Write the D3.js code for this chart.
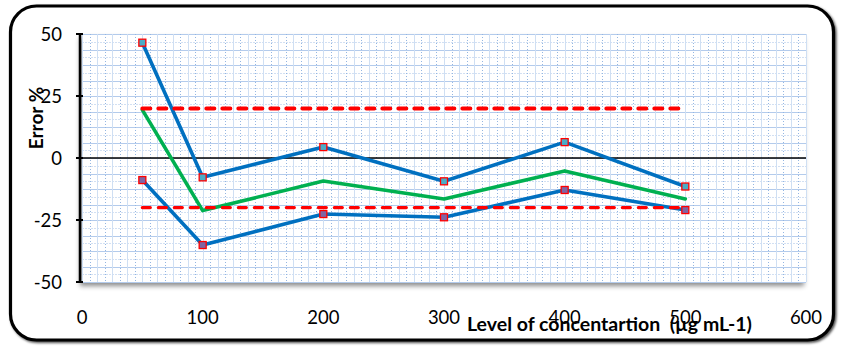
<!DOCTYPE html>
<html><head><meta charset="utf-8">
<script src="https://cdn.jsdelivr.net/npm/d3@7"></script>
<style>body{margin:0;background:#fff}svg{display:block}</style>
</head><body>
<svg id="chart" width="842" height="351"></svg>
<script>
// ---- data ----
const concentrations = [50, 100, 200, 300, 400, 500];
const upperError = [46.5, -7.8, 4.4, -9.4, 6.4, -11.5];
const meanError = [19.4, -21.2, -9.3, -16.5, -5.2, -16.5];
const lowerError = [-8.9, -35.1, -22.6, -23.9, -12.9, -21.0];
const limitRange = [50, 500];
const upperLimit = 20;
const lowerLimit = -20;
const xTicks = [0, 100, 200, 300, 400, 500, 600];
const yTicks = [50, 25, 0, -25, -50];
const xTitle = "Level of concentartion  (µg mL-1)";
const yTitle = "Error %";

const svg = d3.select("#chart");
const L = 82, R = 806, T = 34, B = 282;
const x = d3.scaleLinear().domain([0, 600]).range([L, R]);
const y = d3.scaleLinear().domain([-50, 50]).range([B, T]);
const font = "Lato, 'Open Sans', sans-serif";

const defs = svg.append("defs");
const sh = defs.append("filter").attr("id","psh").attr("x","-10%").attr("y","-10%").attr("width","120%").attr("height","125%");
sh.append("feDropShadow").attr("dx",-2).attr("dy",4).attr("stdDeviation",2.5).attr("flood-color","#000").attr("flood-opacity",0.45);
const bsh = defs.append("filter").attr("id","bsh").attr("x","-5%").attr("y","-5%").attr("width","110%").attr("height","115%");
bsh.append("feDropShadow").attr("dx",1.5).attr("dy",1.5).attr("stdDeviation",0.8).attr("flood-color","#000").attr("flood-opacity",0.7);

// outer rounded border
svg.append("rect").attr("x",10.5).attr("y",6).attr("width",823).attr("height",334)
  .attr("rx",26).attr("ry",26).attr("fill","#fff").attr("stroke","#000").attr("stroke-width",3.2)
  .attr("filter","url(#bsh)");

// plot area with shadow
svg.append("rect").attr("x",L).attr("y",T).attr("width",R-L).attr("height",B-T)
  .attr("fill","#fff").attr("filter","url(#psh)");

const grid = svg.append("g");
// horizontal grid lines (pattern-like)
const hVals = d3.range(-50, 50.001, 25/8);
grid.selectAll("line.h").data(hVals).join("line")
  .attr("x1",L).attr("x2",R).attr("y1",d=>Math.round(y(d))+0.5).attr("y2",d=>Math.round(y(d))+0.5)
  .attr("stroke",(d,i)=> i%2===0 ? "#b3cbec" : "#d2e0f3").attr("stroke-width",1)
  .attr("stroke-dasharray",(d,i)=> i%2===0 ? null : "2,1");
// vertical grid lines
const vVals = d3.range(0, 600.001, 100/16);
grid.selectAll("line.v").data(vVals).join("line")
  .attr("y1",T).attr("y2",B).attr("x1",d=>Math.round(x(d))+0.5).attr("x2",d=>Math.round(x(d))+0.5)
  .attr("stroke",(d,i)=> i%2===0 ? "#cfdff3" : "#94b6e2").attr("stroke-width",1)
  .attr("stroke-dasharray",(d,i)=> i%2===0 ? null : "1,2");

// y axis line + ticks
svg.append("line").attr("x1",80).attr("x2",80).attr("y1",T).attr("y2",B).attr("stroke","#000").attr("stroke-width",2.5);
svg.selectAll("line.yt").data(yTicks).join("line")
  .attr("x1",76).attr("x2",83).attr("y1",d=>y(d)).attr("y2",d=>y(d)).attr("stroke","#000").attr("stroke-width",2);
svg.selectAll("text.yl").data(yTicks).join("text")
  .attr("x",62).attr("y",d=>y(d)).attr("dy","0.36em").attr("text-anchor","end")
  .attr("font-family",font).attr("font-size",18.5).attr("fill","#000").text(d=>d);

// x tick labels
svg.selectAll("text.xl").data(xTicks).join("text")
  .attr("x",d=>x(d)).attr("y",324).attr("text-anchor","middle")
  .attr("font-family",font).attr("font-size",18.5).attr("fill","#000").text(d=>d);

// zero line
svg.append("line").attr("x1",L).attr("x2",R).attr("y1",y(0)).attr("y2",y(0)).attr("stroke","#000").attr("stroke-width",1.6);

const line = d3.line().x((d,i)=>x(concentrations[i])).y(d=>y(d));
const drawLine = (vals,color)=> svg.append("path").attr("d",line(vals)).attr("fill","none")
  .attr("stroke",color).attr("stroke-width",3.6).attr("stroke-linejoin","round").attr("stroke-linecap","round");
drawLine(upperError,"#0070c0");
drawLine(lowerError,"#0070c0");
drawLine(meanError,"#00b050");

// limit lines
[upperLimit, lowerLimit].forEach((v,k)=>{
  svg.append("line").attr("x1",x(limitRange[0])).attr("x2",x(limitRange[1]))
    .attr("y1",y(v)).attr("y2",y(v)).attr("stroke","#ff0000")
    .attr("stroke-width",k===0?4:3.2).attr("stroke-dasharray","8,8").attr("stroke-linecap","round");
});

// markers
const ms = 7;
const drawMarkers = (vals, fill)=> svg.append("g").selectAll("rect").data(vals).join("rect")
  .attr("x",(d,i)=>x(concentrations[i])-ms/2).attr("y",d=>y(d)-ms/2).attr("width",ms).attr("height",ms)
  .attr("fill",fill).attr("stroke","#ff0000").attr("stroke-width",1.3);
drawMarkers(upperError,"#4bacc6");
drawMarkers(lowerError,"#8064a2");

// titles
svg.append("text").attr("x",467).attr("y",331).attr("font-family",font).attr("font-weight","bold")
  .style("white-space","pre").attr("font-size",19.5).attr("fill","#000").text(xTitle);
svg.append("text").attr("transform","translate(43,118) rotate(-90)").attr("text-anchor","middle")
  .attr("font-family",font).attr("font-weight","bold").attr("font-size",19).attr("fill","#000").text(yTitle);
</script>
</body></html>
